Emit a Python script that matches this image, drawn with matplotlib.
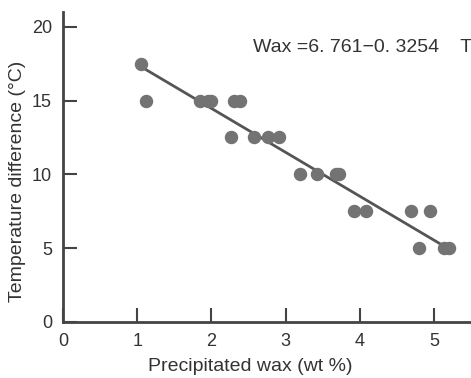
import numpy as np
import matplotlib.pyplot as plt

plt.rcParams['font.family'] = ['Liberation Sans', 'DejaVu Sans']

# precipitated wax (wt %) vs temperature difference (°C)
wax = [1.05, 1.12, 1.85, 1.95, 2.0, 2.31, 2.39,
       2.26, 2.57, 2.77, 2.91,
       3.2, 3.42, 3.68, 3.72,
       3.92, 4.08, 4.69, 4.95,
       4.8, 5.14, 5.2]
dtemp = [17.5, 15, 15, 15, 15, 15, 15,
         12.5, 12.5, 12.5, 12.5,
         10, 10, 10, 10,
         7.5, 7.5, 7.5, 7.5,
         5, 5, 5]

# regression line end points
fit_x = [1.05, 5.15]
fit_y = [17.3, 5.1]

fig = plt.figure(figsize=(4.71, 3.78), dpi=100)
ax = fig.add_axes([63/471, 56/378, 1 - 63/471, 310/378])

ax.plot(fit_x, fit_y, color='#555555', lw=2, zorder=2)
ax.scatter(wax, dtemp, s=75, color='#737373', zorder=3)

ax.set_xlim(0, 5.5)
ax.set_ylim(0, 21)
ax.set_xticks([0, 1, 2, 3, 4, 5])
ax.set_yticks([0, 5, 10, 15, 20])

for s in ['top', 'right']:
    ax.spines[s].set_visible(False)
for s in ['left', 'bottom']:
    ax.spines[s].set_linewidth(2)
    ax.spines[s].set_color('#444444')

ax.tick_params(direction='in', length=10, width=1.5, color='#444444',
               labelsize=13, labelcolor='#333333', pad=8)
ax.set_xlabel('Precipitated wax (wt %)', fontsize=14, color='#333333', labelpad=5)
ax.xaxis.set_label_coords(0.458, -0.115)
ax.set_ylabel('Temperature difference (°C)', fontsize=14, color='#333333')
ax.yaxis.set_label_coords(-0.09, 0.455)

fig.text(253/471, 1 - 47/378, 'Wax =6. 761−0. 3254    T', fontsize=14,
         color='#333333', va='center', ha='left')

fig.savefig('out.png', dpi=100)
